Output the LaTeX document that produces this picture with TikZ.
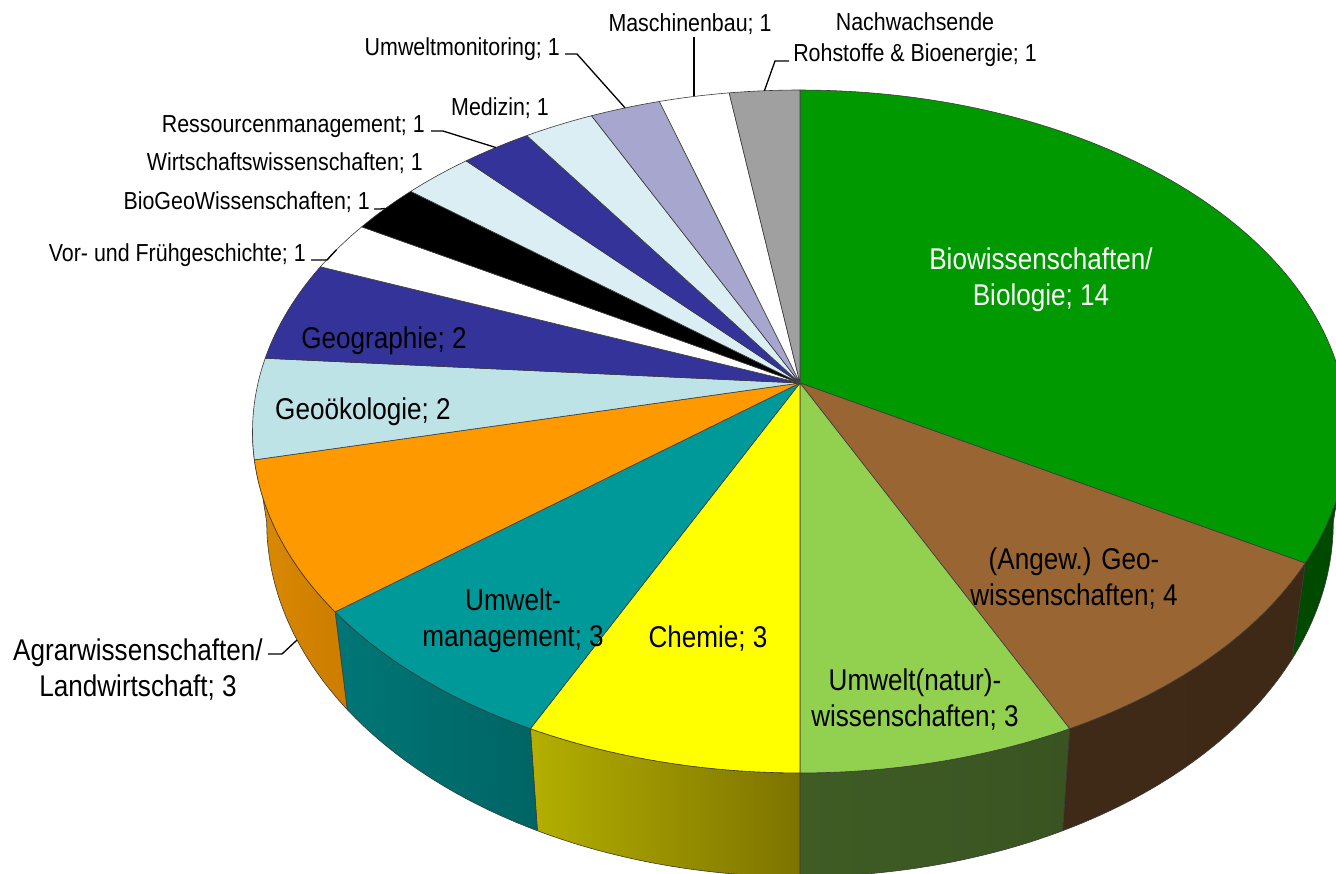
\documentclass[tikz,border=0pt]{standalone}
\usepackage{fontspec}
\newfontfamily\lab[FakeStretch=0.87]{Liberation Sans}
\definecolor{cBio}{HTML}{009900}
\definecolor{cBrown}{HTML}{996633}
\definecolor{cLGreen}{HTML}{92D050}
\definecolor{cYellow}{HTML}{FFFF00}
\definecolor{cTeal}{HTML}{009999}
\definecolor{cOrange}{HTML}{FF9900}
\definecolor{cCyanA}{HTML}{BEE3E7}
\definecolor{cCyanB}{HTML}{DAEEF3}
\definecolor{cBlue}{HTML}{333399}
\definecolor{cLav}{HTML}{A6A6CF}
\definecolor{cGray}{HTML}{A0A0A0}
\definecolor{cEdge}{HTML}{3A3A3A}
\definecolor{sBio}{HTML}{004A00}
\definecolor{sBrownA}{HTML}{3F2A18}
\definecolor{sBrownB}{HTML}{3E2916}
\definecolor{sLGreenA}{HTML}{3F5C25}
\definecolor{sLGreenB}{HTML}{3A5421}
\definecolor{sYellowA}{HTML}{B4AF00}
\definecolor{sYellowB}{HTML}{7D7300}
\definecolor{sTealA}{HTML}{007676}
\definecolor{sTealB}{HTML}{006464}
\definecolor{sOrangeA}{HTML}{DA8A00}
\definecolor{sOrangeB}{HTML}{CC7C00}
\newcommand\topslice[3]{\path[edge, fill=#3] (800,383) -- plot[domain=#1:#2, samples=90, variable=\t] ({px(\t)},{py(\t)}) -- cycle;}
\newcommand\sideface[4]{\path[edge, left color=#3, right color=#4] plot[domain=#1:#2, samples=50, variable=\t] ({px(\t)},{py(\t)}) -- plot[domain=#2:#1, samples=50, variable=\t] ({bx(\t)},{by(\t)}) -- cycle;}
\begin{document}
\begin{tikzpicture}[x=1pt,y=-1pt,
  declare function={
    pd(\t)=1+0.142*cos(\t);
    px(\t)=800+542*sin(\t)/pd(\t);
    py(\t)=383-334.6*cos(\t)/pd(\t);
    bx(\t)=800+0.974*542*sin(\t)/pd(\t);
    by(\t)=py(\t)+89/pd(\t);
  },
  edge/.style={draw=cEdge, line width=0.6pt, line join=round},
  leader/.style={draw=black, line width=1.3pt, line join=miter},
  small/.style={font=\lab\fontsize{24.6}{31}\selectfont, inner sep=0pt, align=center, text=black},
  big/.style={font=\lab\fontsize{30}{36}\selectfont, inner sep=0pt, align=center, text=black},
]
\useasboundingbox (0,0) rectangle (1336,873);
\clip (0,0) rectangle (1336,873);
\fill[white] (0,0) rectangle (1336,873);

% side walls (front half)
\sideface{98.2}{120}{sBio}{sBio}
\sideface{120}{154.2857}{sBrownA}{sBrownB}
\sideface{154.2857}{180}{sLGreenA}{sLGreenB}
\sideface{180}{205.7143}{sYellowA}{sYellowB}
\sideface{205.7143}{231.4286}{sTealA}{sTealB}
\sideface{231.4286}{261.8}{sOrangeA}{sOrangeB}

% top faces
\topslice{0}{120}{cBio}
\topslice{120}{154.2857}{cBrown}
\topslice{154.2857}{180}{cLGreen}
\topslice{180}{205.7143}{cYellow}
\topslice{205.7143}{231.4286}{cTeal}
\topslice{231.4286}{257.1429}{cOrange}
\topslice{257.1429}{274.2857}{cCyanA}
\topslice{274.2857}{291.4286}{cBlue}
\topslice{291.4286}{300}{white}
\topslice{300}{308.5714}{black}
\topslice{308.5714}{317.1429}{cCyanB}
\topslice{317.1429}{325.7143}{cBlue}
\topslice{325.7143}{334.2857}{cCyanB}
\topslice{334.2857}{342.8571}{cLav}
\topslice{342.8571}{351.4286}{white}
\topslice{351.4286}{360}{cGray}

% leader end points on the slices
\coordinate (nachwP) at ({px(355.7)},{py(355.7)});
\coordinate (maschP) at ({px(347.14)},{py(347.14)});
\coordinate (umonP) at ({px(338.57)},{py(338.57)});
\coordinate (ressP) at ({px(321.43)},{py(321.43)});
\coordinate (biogeoP) at ({px(304.3)},{py(304.3)});
\coordinate (vorP) at ({px(295)},{py(295)});
\coordinate (agrarP) at (297,640);

% labels
\node[small, anchor=center] (nachw) at (915,40) {Nachwachsende\\Rohstoffe \& Bioenergie; 1};
\node[small, anchor=base] (masch) at (690,31) {Maschinenbau; 1};
\node[small, anchor=base east] (umon) at (560,55) {Umweltmonitoring; 1};
\node[small, anchor=base] (med) at (500,115) {Medizin; 1};
\node[small, anchor=base east] (ress) at (425,132) {Ressourcenmanagement; 1};
\node[small, anchor=base east] (wirt) at (423,170) {Wirtschaftswissenschaften; 1};
\node[small, anchor=base east] (biogeo) at (370,209) {BioGeoWissenschaften; 1};
\node[small, anchor=base east] (vor) at (306,261) {Vor- und Frühgeschichte; 1};

\node[big, anchor=center, text=white] (bio) at (1041,280) {Biowissenschaften/\\Biologie; 14};
\node[big, anchor=center] (angew) at (1074,579) {(Angew.) Geo-\\wissenschaften; 4};
\node[big, anchor=center] (unat) at (915,700) {Umwelt(natur)-\\wissenschaften; 3};
\node[big, anchor=base] (chem) at (708,647) {Chemie; 3};
\node[big, anchor=center] (umgmt) at (513,621) {Umwelt-\\management; 3};
\node[big, anchor=center] (agrar) at (138,670) {Agrarwissenschaften/\\Landwirtschaft; 3};
\node[big, anchor=base] (geoo) at (363,419) {Geoökologie; 2};
\node[big, anchor=base] (geog) at (384,348) {Geographie; 2};

% leader lines
\coordinate (nachwA) at (789,61);
\draw[leader] (nachwA) -- (775,61) -- (nachwP);
\coordinate (maschA) at ({px(347.14)},37);
\draw[leader] (maschA) -- (maschP);
\coordinate (umonA) at (565,54);
\draw[leader] (umonA) -- (577,54) -- (umonP);
\coordinate (ressA) at (431,131);
\draw[leader] (ressA) -- (443,131) -- (ressP);
\coordinate (biogeoA) at (374,209);
\draw[leader] (biogeoA) -- (380,209) -- (biogeoP);
\coordinate (vorA) at (311,260);
\draw[leader] (vorA) -- (327,260) -- (vorP);
\coordinate (agrarA) at (268,654);
\draw[leader] (agrarA) -- (282,654) -- (agrarP);
\end{tikzpicture}
\end{document}
